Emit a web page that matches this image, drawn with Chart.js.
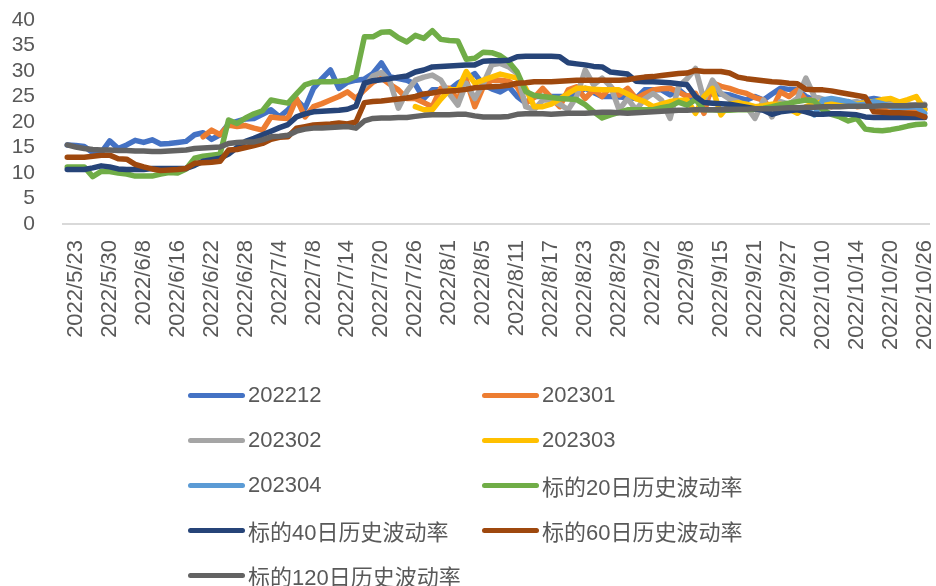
<!DOCTYPE html>
<html>
<head>
<meta charset="utf-8">
<script src="https://cdn.jsdelivr.net/npm/chart.js@4"></script>
<style>
  html, body { margin: 0; padding: 0; background: #ffffff; }
  #wrap { position: relative; width: 936px; height: 586px; overflow: hidden; }
  #c { position: absolute; left: 0; top: 0; }
  .lg { position: absolute; height: 30px; display: flex; align-items: center;
        font-family: "Liberation Sans", "Noto Sans CJK SC", sans-serif; font-size: 22px; color: #595959; white-space: nowrap; }
  .lg i { display: inline-block; width: 57px; height: 5px; border-radius: 3px; margin-right: 3px; }
</style>
</head>
<body>
<div id="wrap">
  <canvas id="c" width="936" height="586"></canvas>
  <div id="legend"></div>
</div>
<script>
const categories = [
  "2022/5/20","2022/5/23","2022/5/24","2022/5/25","2022/5/26","2022/5/30","2022/5/31","2022/6/1","2022/6/2","2022/6/8",
  "2022/6/9","2022/6/10","2022/6/13","2022/6/16","2022/6/17","2022/6/20","2022/6/21","2022/6/22","2022/6/23","2022/6/24",
  "2022/6/27","2022/6/28","2022/6/29","2022/6/30","2022/7/1","2022/7/4","2022/7/5","2022/7/6","2022/7/7","2022/7/8",
  "2022/7/11","2022/7/12","2022/7/13","2022/7/14","2022/7/15","2022/7/18","2022/7/19","2022/7/20","2022/7/21","2022/7/22",
  "2022/7/25","2022/7/26","2022/7/27","2022/7/28","2022/7/29","2022/8/1","2022/8/2","2022/8/3","2022/8/4","2022/8/5",
  "2022/8/8","2022/8/9","2022/8/10","2022/8/11","2022/8/12","2022/8/15","2022/8/16","2022/8/17","2022/8/18","2022/8/19",
  "2022/8/22","2022/8/23","2022/8/24","2022/8/25","2022/8/26","2022/8/29","2022/8/30","2022/8/31","2022/9/1","2022/9/2",
  "2022/9/5","2022/9/6","2022/9/7","2022/9/8","2022/9/9","2022/9/13","2022/9/14","2022/9/15","2022/9/16","2022/9/19",
  "2022/9/20","2022/9/21","2022/9/22","2022/9/23","2022/9/26","2022/9/27","2022/9/28","2022/9/29","2022/9/30","2022/10/10",
  "2022/10/11","2022/10/12","2022/10/13","2022/10/14","2022/10/17","2022/10/18","2022/10/19","2022/10/20","2022/10/21","2022/10/24",
  "2022/10/25","2022/10/26"
];

const yTicks = [0, 5, 10, 15, 20, 25, 30, 35, 40];

const s202212 = [
  15.5,15.4,15.2,14.0,14.0,16.3,14.8,15.5,16.4,16.0,
  16.5,15.7,15.8,16.0,16.2,17.5,17.9,16.6,17.5,19.6,
  20.1,20.6,20.7,21.5,22.4,21.0,22.4,24.3,22.7,26.6,
  28.5,30.2,26.6,27.8,28.2,28.4,29.5,31.6,28.9,28.5,
  28.2,27.4,24.6,26.3,26.3,26.3,27.6,28.5,29.5,27.3,
  26.5,25.9,26.9,25.0,23.7,25.0,25.0,25.0,25.0,25.0,
  25.6,26.6,25.8,25.0,25.0,24.9,24.8,24.6,26.3,26.3,
  26.3,25.3,26.4,25.0,24.3,25.0,25.6,25.5,25.3,24.8,
  24.3,25.0,24.3,25.5,26.6,26.4,26.3,25.0,24.3,24.3,
  24.2,23.8,23.7,23.3,24.3,24.6,24.3,24.3,22.4,22.5,
  22.6,22.7
];

const s202301 = [
  null,null,null,null,null,null,null,null,null,null,
  null,null,null,null,null,null,17.1,18.4,17.5,19.4,
  19.1,19.3,18.8,18.4,21.0,20.8,20.7,24.6,21.0,23.0,
  23.6,24.3,25.0,25.9,24.6,26.3,27.8,28.6,27.4,26.3,
  24.6,24.6,23.8,23.0,26.6,26.6,24.3,28.2,23.0,26.9,
  28.2,28.2,28.0,26.9,23.7,24.8,26.6,24.8,23.0,26.3,
  26.9,24.6,26.3,25.0,26.9,25.3,26.6,24.6,25.5,26.3,
  26.5,26.6,25.9,25.0,25.6,21.7,27.7,27.0,26.6,26.0,
  25.6,24.8,24.3,22.4,25.9,25.0,26.3,24.3,24.3,24.3,
  23.0,23.5,24.0,23.0,23.2,23.0,22.8,23.0,22.6,22.6,
  22.5,22.4
];

const s202302 = [
  null,null,null,null,null,null,null,null,null,null,
  null,null,null,null,null,null,null,null,null,null,
  null,null,null,null,null,null,null,null,null,null,
  null,null,null,null,null,27.0,29.0,29.7,28.0,22.7,
  26.0,28.2,28.8,29.2,28.2,25.5,23.3,27.6,24.6,27.5,
  31.2,31.5,30.8,29.5,23.0,22.4,24.3,24.3,23.5,22.4,
  25.0,30.2,27.3,28.6,27.0,22.4,24.6,22.4,24.5,25.6,
  24.3,20.7,26.9,28.5,30.5,24.3,28.2,25.6,24.5,24.0,
  23.0,20.7,24.3,21.0,24.0,23.5,24.6,28.6,25.0,24.5,
  24.0,24.2,23.8,24.0,23.6,23.5,23.4,23.5,23.3,23.4,
  23.4,23.5
];

const s202303 = [
  null,null,null,null,null,null,null,null,null,null,
  null,null,null,null,null,null,null,null,null,null,
  null,null,null,null,null,null,null,null,null,null,
  null,null,null,null,null,null,null,null,null,null,
  null,23.0,22.4,22.4,24.5,26.3,26.3,29.9,27.6,28.2,
  28.8,29.4,29.0,28.6,26.6,23.0,23.0,23.5,24.5,25.6,
  26.6,26.6,26.4,26.3,26.3,26.3,25.5,24.6,24.0,23.0,
  23.5,24.0,24.2,24.3,21.7,25.0,26.6,21.4,23.5,23.8,
  23.5,23.0,23.2,23.5,23.5,22.6,21.7,23.0,23.6,24.0,
  23.8,23.5,23.6,23.5,23.8,24.0,24.4,24.6,23.9,24.4,
  25.0,22.4
];

const s202304 = [
  null,null,null,null,null,null,null,null,null,null,
  null,null,null,null,null,null,null,null,null,null,
  null,null,null,null,null,null,null,null,null,null,
  null,null,null,null,null,null,null,null,null,null,
  null,null,null,null,null,null,null,null,null,null,
  null,null,null,null,null,null,null,null,null,null,
  null,null,null,null,null,null,null,null,null,null,
  null,null,null,null,null,null,null,null,null,null,
  null,null,null,null,null,null,null,22.5,21.4,24.3,
  24.6,24.3,24.0,23.3,23.5,24.0,23.6,23.0,22.7,22.9,
  23.0,21.7
];

const hv20 = [
  11.2,11.2,11.2,9.3,10.3,10.3,10.0,9.8,9.4,9.4,
  9.4,9.8,10.1,10.0,10.8,12.9,13.3,13.5,13.7,20.4,
  19.7,20.8,21.6,22.2,24.3,24.0,23.7,25.5,27.3,27.8,
  27.9,27.9,28.0,28.2,29.0,36.7,36.7,37.6,37.7,36.5,
  35.7,37.0,36.4,37.9,36.2,36.0,35.9,32.3,32.5,33.7,
  33.6,33.0,31.8,29.8,26.0,25.2,25.0,24.8,24.6,24.5,
  24.4,23.4,22.0,20.8,21.4,21.9,22.4,22.4,22.4,22.4,
  22.8,23.1,23.9,23.3,24.4,22.4,22.4,22.3,22.3,22.4,
  22.4,22.5,22.7,23.0,23.4,23.7,24.0,24.3,24.1,22.4,
  21.5,21.0,20.2,20.7,18.6,18.4,18.3,18.5,18.8,19.2,
  19.5,19.6
];

const hv40 = [
  10.7,10.7,10.7,11.0,11.4,11.2,10.8,10.7,10.7,10.7,
  10.9,10.9,10.9,10.9,10.9,11.5,12.3,12.6,12.9,13.7,
  15.0,16.2,16.8,17.5,18.2,18.9,19.5,21.0,21.6,22.0,
  22.1,22.2,22.3,22.5,23.1,27.6,28.1,28.3,28.5,28.8,
  29.0,29.8,30.2,30.8,30.9,31.0,31.1,31.2,31.2,31.9,
  32.0,32.0,32.1,32.8,32.9,32.9,32.9,32.9,32.8,31.6,
  31.4,31.2,30.9,30.8,29.8,29.6,29.4,28.0,27.9,27.9,
  27.8,27.7,27.5,27.3,25.0,23.8,23.7,23.6,23.5,23.2,
  22.9,22.6,22.3,21.5,22.0,22.2,22.4,22.0,21.5,21.5,
  21.6,21.6,21.5,21.4,21.0,20.9,20.9,20.9,20.9,20.9,
  20.9,20.9
];

const hv60 = [
  13.1,13.1,13.1,13.3,13.5,13.5,12.8,12.7,11.7,11.2,
  10.8,10.5,10.6,10.7,10.9,11.9,12.0,12.1,12.3,14.5,
  14.6,15.0,15.4,15.8,16.6,17.0,17.1,18.8,19.1,19.4,
  19.5,19.6,19.8,19.6,20.0,23.8,24.0,24.1,24.3,24.5,
  24.7,25.0,25.5,25.7,26.0,26.1,26.2,26.4,26.7,26.8,
  26.9,27.0,27.2,27.6,27.7,27.9,27.9,27.9,28.0,28.1,
  28.2,28.2,28.2,28.2,28.2,28.2,28.3,28.6,28.8,28.9,
  29.1,29.3,29.5,29.6,30.1,29.9,29.9,29.9,29.6,28.8,
  28.5,28.3,28.1,27.9,27.8,27.6,27.5,26.4,26.3,26.3,
  26.1,25.8,25.5,25.2,24.9,22.0,21.9,21.8,21.8,21.7,
  21.6,21.0
];

const hv120 = [
  15.5,15.1,14.8,14.6,14.5,14.5,14.4,14.4,14.3,14.3,
  14.2,14.2,14.3,14.4,14.5,14.8,14.9,15.0,15.1,15.8,
  16.0,16.1,16.1,16.5,17.1,17.2,17.4,18.2,18.6,18.8,
  18.8,18.9,19.0,19.1,18.8,20.2,20.7,20.8,20.8,20.9,
  20.9,21.1,21.3,21.4,21.4,21.4,21.5,21.5,21.2,21.0,
  21.0,21.0,21.1,21.5,21.6,21.6,21.6,21.5,21.6,21.7,
  21.7,21.7,21.8,21.9,21.9,21.8,21.7,21.8,21.9,22.0,
  22.1,22.2,22.3,22.3,22.4,22.4,22.4,22.4,22.5,22.5,
  22.5,22.6,22.6,22.6,22.7,22.8,22.8,22.9,22.9,23.0,
  23.0,23.0,23.1,23.1,23.1,23.1,23.2,23.2,23.2,23.2,
  23.3,23.3
];

const seriesNames = ["202212","202301","202302","202303","202304",
  "标的20日历史波动率","标的40日历史波动率","标的60日历史波动率","标的120日历史波动率"];
const seriesData = [s202212, s202301, s202302, s202303, s202304, hv20, hv40, hv60, hv120];
const seriesColors = ["#4472C4","#ED7D31","#A5A5A5","#FFC000","#5B9BD5","#70AD47","#264478","#9E480E","#636363"];

const datasets = seriesNames.map((name, i) => ({
  label: name,
  data: seriesData[i],
  borderColor: seriesColors[i],
  backgroundColor: seriesColors[i],
  borderWidth: 5.5,
  pointRadius: 0,
  pointHoverRadius: 0,
  tension: 0,
  fill: false,
  spanGaps: false,
  borderCapStyle: 'round',
  borderJoinStyle: 'round',
  order: seriesNames.length - 1 - i
}));

const textColor = '#595959';
const fontFam = '"Liberation Sans", "Noto Sans CJK SC", sans-serif';

new Chart(document.getElementById('c'), {
  type: 'line',
  data: { labels: categories, datasets: datasets },
  options: {
    responsive: false,
    animation: false,
    events: [],
    layout: { padding: { left: 0, right: 7, top: 20, bottom: 232 } },
    plugins: { legend: { display: false }, tooltip: { enabled: false } },
    scales: {
      x: {
        type: 'category',
        offset: true,
        grid: { display: true, drawOnChartArea: false, drawTicks: false, color: 'rgba(0,0,0,0)' },
        border: { display: true, color: '#d9d9d9', width: 2 },
        ticks: {
          autoSkip: false,
          minRotation: 90,
          maxRotation: 90,
          padding: 16,
          color: textColor,
          font: { family: fontFam, size: 22 },
          callback: function (val, idx) { return idx % 4 === 1 ? this.getLabelForValue(val) : ''; }
        },
        afterFit: function (scale) {
          scale.height = 130;
          scale.paddingLeft = 0; scale.paddingRight = 0;
        }
      },
      y: {
        min: yTicks[0],
        max: yTicks[yTicks.length - 1],
        grid: { display: false, drawTicks: false },
        border: { display: false },
        ticks: {
          stepSize: yTicks[1] - yTicks[0],
          autoSkip: false,
          padding: 28,
          color: textColor,
          font: { family: fontFam, size: 21 }
        },
        afterFit: function (scale) {
          scale.width = 63;
          scale.paddingTop = 0; scale.paddingBottom = 0;
        }
      }
    }
  }
});

// Legend (two columns, as in the reference)
const legendPos = [
  [188, 380], [482, 380],
  [188, 425], [482, 425],
  [188, 470], [482, 470],
  [188, 515], [482, 515],
  [188, 560]
];
const legend = document.getElementById('legend');
seriesNames.forEach((name, i) => {
  const d = document.createElement('div');
  d.className = 'lg';
  d.style.left = legendPos[i][0] + 'px';
  d.style.top = legendPos[i][1] + 'px';
  const sw = document.createElement('i');
  sw.style.background = seriesColors[i];
  d.appendChild(sw);
  d.appendChild(document.createTextNode(name));
  legend.appendChild(d);
});
</script>
</body>
</html>
